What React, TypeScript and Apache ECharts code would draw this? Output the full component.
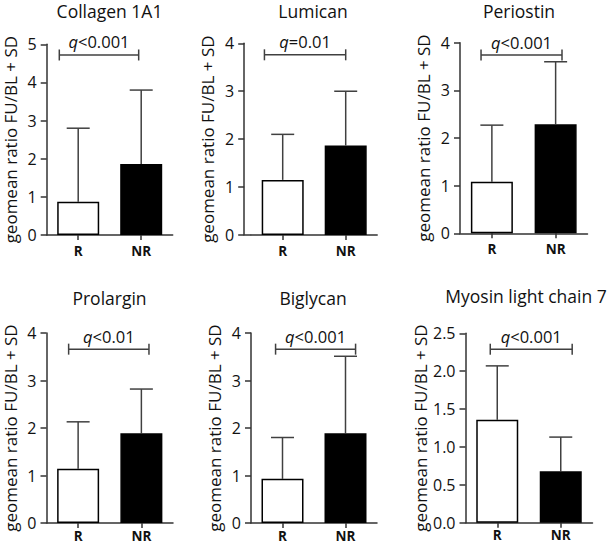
import React, { useEffect, useRef } from 'react';
import * as echarts from 'echarts';

// ---------- data ----------
const categories = ['R', 'NR'];
const panelTitles = ['Collagen 1A1', 'Lumican', 'Periostin', 'Prolargin', 'Biglycan', 'Myosin light chain 7'];
const yAxisTitle = 'geomean ratio FU/BL + SD';

// geomean ratio (bar height) and geomean + SD (error bar top), order [R, NR]
const collagenMean = [0.87, 1.86];
const collagenUpper = [2.8, 3.8];
const lumicanMean = [1.15, 1.87];
const lumicanUpper = [2.1, 3.0];
const periostinMean = [1.08, 2.29];
const periostinUpper = [2.27, 3.6];
const prolarginMean = [1.14, 1.89];
const prolarginUpper = [2.13, 2.82];
const biglycanMean = [0.93, 1.89];
const biglycanUpper = [1.8, 3.51];
const myosinMean = [1.36, 0.68];
const myosinUpper = [2.07, 1.13];

const qLabels = ['<0.001', '=0.01', '<0.001', '<0.01', '<0.001', '<0.001'];
const bracketLevels = [4.72, 3.76, 3.74, 3.66, 3.66, 2.29];
const yMaxes = [5, 4, 4, 4, 4, 2.5];
const yIntervals = [1, 1, 1, 1, 1, 0.5];

const means = [collagenMean, lumicanMean, periostinMean, prolarginMean, biglycanMean, myosinMean];
const uppers = [collagenUpper, lumicanUpper, periostinUpper, prolarginUpper, biglycanUpper, myosinUpper];

// ---------- layout ----------
const layout = [
  { left: 46.7, top: 44.3, width: 126, height: 190.7, yOffset: 0, tx: 109.5, ty: 11, bs: -0.3, be: 0.96, lm: 9 },
  { left: 251.2, top: 43.3, width: 126, height: 191.7, yOffset: 7, tx: 313, ty: 11, bs: -0.29, be: 1.0, lm: 9 },
  { left: 460, top: 42.7, width: 127.5, height: 190.6, yOffset: 0, tx: 519, ty: 11, bs: -0.17, be: 1.1, lm: 9 },
  { left: 46.5, top: 333, width: 126.5, height: 190, yOffset: 0, tx: 109.5, ty: 298, bs: -0.15, be: 1.12, lm: 6 },
  { left: 251, top: 333, width: 126, height: 190, yOffset: 0, tx: 313, ty: 298, bs: -0.11, be: 1.16, lm: 6 },
  { left: 465.5, top: 333.3, width: 127, height: 189.4, yOffset: 0, tx: 526, ty: 296, bs: -0.11, be: 1.18, lm: 6 },
];

const FONT = 'Open Sans';
const AXIS_COLOR = '#333';
const ERR_COLOR = '#404040';

export default function App() {
  const ref = useRef<HTMLDivElement>(null);
  useEffect(() => {
    document.body.style.margin = '0';
    const chart = echarts.init(ref.current as HTMLDivElement, null, { renderer: 'svg' });

    const grids: any[] = [];
    const xAxes: any[] = [];
    const yAxes: any[] = [];
    const series: any[] = [];
    const graphics: any[] = [];

    layout.forEach((L, i) => {
      grids.push({ left: L.left, top: L.top, width: L.width, height: L.height, containLabel: false });
      xAxes.push({
        type: 'category',
        gridIndex: i,
        data: categories,
        axisLine: { show: true, lineStyle: { color: AXIS_COLOR, width: 1.5 } },
        axisTick: { show: true, alignWithLabel: true, length: 5, lineStyle: { color: AXIS_COLOR, width: 1.5 } },
        axisLabel: { fontWeight: 'bold', fontSize: 13.5, lineHeight: 13, fontFamily: FONT, color: '#111', margin: L.lm },
        splitLine: { show: false },
      });
      const dec = yIntervals[i] < 1 ? 1 : 0;
      yAxes.push({
        type: 'value',
        gridIndex: i,
        min: 0,
        max: yMaxes[i],
        interval: yIntervals[i],
        offset: L.yOffset,
        axisLine: { show: true, lineStyle: { color: AXIS_COLOR, width: 1.5 } },
        axisTick: { show: true, length: 6, lineStyle: { color: AXIS_COLOR, width: 1.5 } },
        splitLine: { show: false },
        axisLabel: {
          fontSize: 16,
          fontFamily: FONT,
          color: '#111',
          margin: 10,
          formatter: (v: number) => v.toFixed(dec),
        },
        name: yAxisTitle,
        nameLocation: 'middle',
        nameGap: 28,
        nameTextStyle: { fontSize: 17, lineHeight: 17, fontFamily: FONT, color: '#111' },
      });

      series.push({
        type: 'custom',
        xAxisIndex: i,
        yAxisIndex: i,
        z: 1,
        silent: true,
        data: means[i].map((m, k) => [k, m, uppers[i][k]]),
        renderItem: (params: any, api: any) => {
          const base = api.coord([api.value(0), api.value(1)]);
          const top = api.coord([api.value(0), api.value(2)]);
          const st = { stroke: ERR_COLOR, lineWidth: 1.5 };
          return {
            type: 'group',
            children: [
              { type: 'line', shape: { x1: base[0], y1: base[1], x2: top[0], y2: top[1] }, style: st },
              { type: 'line', shape: { x1: top[0] - 11.5, y1: top[1], x2: top[0] + 11.5, y2: top[1] }, style: st },
            ],
          };
        },
      });

      series.push({
        type: 'bar',
        xAxisIndex: i,
        yAxisIndex: i,
        barWidth: 42,
        z: 2,
        silent: true,
        data: means[i].map((v, k) => ({
          value: v,
          itemStyle: { color: k === 0 ? '#ffffff' : '#000000', borderColor: '#000', borderWidth: 1.5 },
        })),
      });

      const q = qLabels[i];
      const bs = L.bs;
      const be = L.be;
      series.push({
        type: 'custom',
        xAxisIndex: i,
        yAxisIndex: i,
        z: 3,
        silent: true,
        data: [[0, bracketLevels[i]]],
        renderItem: (params: any, api: any) => {
          const c0 = api.coord([0, api.value(1)]);
          const c1 = api.coord([1, api.value(1)]);
          const step = c1[0] - c0[0];
          const x1 = c0[0] + bs * step;
          const x2 = c0[0] + be * step;
          const y = c0[1];
          const st = { stroke: ERR_COLOR, lineWidth: 1.5 };
          return {
            type: 'group',
            children: [
              { type: 'line', shape: { x1, y1: y, x2, y2: y }, style: st },
              { type: 'line', shape: { x1, y1: y - 5.5, x2: x1, y2: y + 5.5 }, style: st },
              { type: 'line', shape: { x1: x2, y1: y - 5.5, x2, y2: y + 5.5 }, style: st },
              {
                type: 'text',
                x: (x1 + x2) / 2,
                y: y - 13,
                style: {
                  text: '{i|q}' + q,
                  fontSize: 16.5,
                  fontFamily: FONT,
                  fill: '#111',
                  align: 'center',
                  verticalAlign: 'middle',
                  rich: { i: { fontStyle: 'italic', fontSize: 16.5, fontFamily: FONT, fill: '#111' } },
                },
              },
            ],
          };
        },
      });

      graphics.push({
        type: 'text',
        x: L.tx,
        y: L.ty,
        style: {
          text: panelTitles[i],
          fontSize: 17.5,
          fontFamily: FONT,
          fill: '#111',
          align: 'center',
          verticalAlign: 'middle',
        },
      });

      if (L.yOffset > 0) {
        const yb = L.top + L.height;
        graphics.push({
          type: 'line',
          shape: { x1: L.left - L.yOffset, y1: yb, x2: L.left, y2: yb },
          style: { stroke: AXIS_COLOR, lineWidth: 1.5 },
        });
      }
    });

    chart.setOption({
      animation: false,
      backgroundColor: '#ffffff',
      grid: grids,
      xAxis: xAxes,
      yAxis: yAxes,
      series,
      graphic: graphics,
    });
    return () => chart.dispose();
  }, []);
  return <div ref={ref} style={{ width: 609, height: 546 }} />;
}
